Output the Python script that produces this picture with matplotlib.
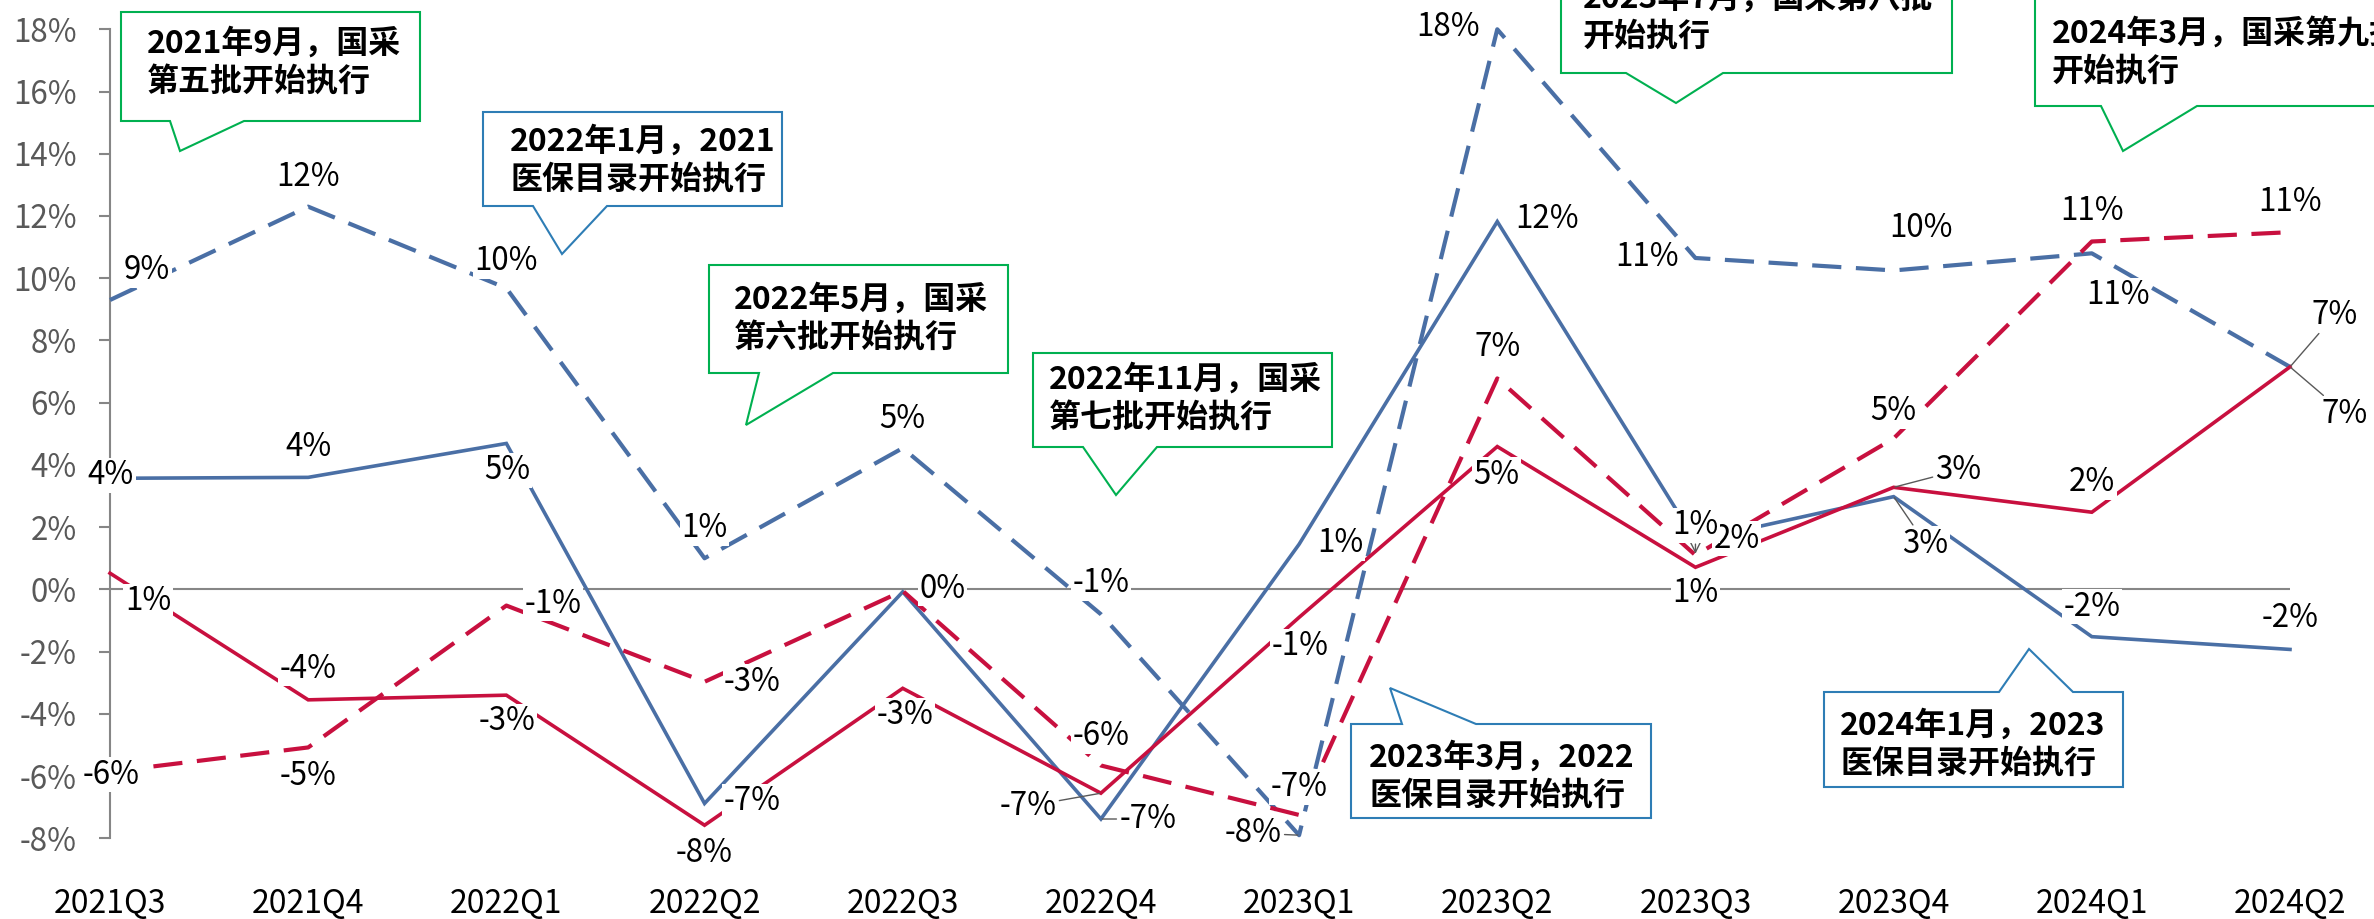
import numpy as np
import matplotlib
matplotlib.use("Agg")
import matplotlib.pyplot as plt
import matplotlib.transforms as mtransforms
from matplotlib.patches import Polygon

# === Dados ===
quarters = ["2021Q3", "2021Q4", "2022Q1", "2022Q2", "2022Q3", "2022Q4",
            "2023Q1", "2023Q2", "2023Q3", "2023Q4", "2024Q1", "2024Q2"]

blue_dashed = [9.3, 12.3, 9.68, 1.0, 4.54, -0.8, -7.9, 18.0, 10.65, 10.25, 10.8, 7.15]
blue_solid = [3.57, 3.6, 4.69, -6.88, -0.08, -7.38, 1.45, 11.82, 1.57, 2.98, -1.52, -1.93]
red_dashed = [-5.86, -5.08, -0.52, -2.97, -0.05, -5.66, -7.25, 6.78, 1.1, 4.85, 11.18, 11.48]
red_solid = [0.52, -3.55, -3.4, -7.58, -3.18, -6.55, -0.9, 4.59, 0.71, 3.28, 2.48, 7.15]

# posicao dos rotulos (dx, dy em pixels, dy para baixo); None = sem rotulo
off_blue_dashed = [(37, -30), (0, -30), (0, -27), (0, -30), (0, -29), (0, -31),
                   (-46, -2), (-49, -2), (-48, -1), (27, -42), (26, 42), (55, 47)]
off_blue_solid = [(1, -3), (0, -30), (1, 27), (48, -2), (40, -3), (47, 0),
                  (41, -1), (50, -3), (41, -2), (32, 47), (0, -30), (0, -31)]
off_red_dashed = [(1, 3), (0, 29), (47, -2), (48, 0), None, (0, -29),
                  (0, -28), (0, -31), (0, -30), (0, -27), (0, -31), (0, -30)]
off_red_solid = [(38, 28), (0, -31), (1, 26), (0, 28), (2, 27), (-73, 13),
                 (1, 29), (-1, 28), (0, 26), (65, -17), (0, -30), (45, -52)]

# linhas de chamada dos rotulos
lead_blue_dashed = {6: "-", 11: "-"}
lead_blue_solid = {5: "-", 9: "-"}
lead_red_dashed = {8: "->"}
lead_red_solid = {5: "-", 9: "-", 11: "-"}

# caixas de anotacao (pixels da figura)
notas = [
    ("2021年9月，国采\n第五批开始执行", "#00B050", (121, 12, 420, 121), "bottom", (170, 244), (180, 151), (147, 63)),
    ("2022年1月，2021\n医保目录开始执行", "#2E7DB5", (483, 112, 782, 206), "bottom", (533, 607), (562, 254), (510, 161)),
    ("2022年5月，国采\n第六批开始执行", "#00B050", (709, 265, 1008, 373), "bottom", (759, 833), (746, 425), (734, 319)),
    ("2022年11月，国采\n第七批开始执行", "#00B050", (1033, 353, 1332, 447), "bottom", (1083, 1157), (1116, 495), (1049, 399)),
    ("2023年3月，2022\n医保目录开始执行", "#2E7DB5", (1351, 724, 1651, 818), "top", (1402, 1476), (1390, 688), (1369, 777)),
    ("2023年7月，国采第八批\n开始执行", "#00B050", (1561, -40, 1952, 73), "bottom", (1626, 1723), (1676, 103), (1583, 18)),
    ("2024年3月，国采第九批\n开始执行", "#00B050", (2035, -5, 2420, 106), "bottom", (2101, 2197), (2123, 151), (2052, 53)),
    ("2024年1月，2023\n医保目录开始执行", "#2E7DB5", (1824, 692, 2123, 787), "top", (1999, 2073), (2029, 649), (1840, 745)),
]

W, H, DPI = 2374, 919, 100
BLUE = "#4A6FA5"
RED = "#C8103F"
GRAY = "#868686"

plt.rcParams["font.family"] = ["Noto Sans CJK SC", "DejaVu Sans"]

fig = plt.figure(figsize=(W / DPI, H / DPI), dpi=DPI)
ax = fig.add_axes([110 / W, 1 - 838.3 / H, 2180 / W, 809 / H])
PX = mtransforms.Affine2D().scale(1 / W, -1 / H).translate(0, 1) + fig.transFigure

x = np.arange(len(quarters))
ax.axhline(0, color=GRAY, lw=1.5, zorder=1)

series = [
    (blue_dashed, BLUE, True, off_blue_dashed, lead_blue_dashed),
    (blue_solid, BLUE, False, off_blue_solid, lead_blue_solid),
    (red_dashed, RED, True, off_red_dashed, lead_red_dashed),
    (red_solid, RED, False, off_red_solid, lead_red_solid),
]

for vals, cor, tracejado, offs, leads in series:
    ln, = ax.plot(x, vals, color=cor, lw=3.0 if tracejado else 2.6, zorder=3,
                  solid_joinstyle="miter", clip_on=False)
    if tracejado:
        ln.set_dashes([7, 3.5])

for vals, cor, tracejado, offs, leads in series:
    for i, v in enumerate(vals):
        if offs[i] is None:
            continue
        dx, dy = offs[i]
        arrow = None
        if i in leads:
            arrow = dict(arrowstyle=leads[i], color="#595959", lw=1, shrinkA=1, shrinkB=1)
        ax.annotate(f"{int(round(v))}%", (i, v), xytext=(dx * 0.72, -dy * 0.72),
                    textcoords="offset points", ha="center", va="center",
                    fontsize=22.5, color="black", zorder=6, annotation_clip=False,
                    bbox=dict(boxstyle="square,pad=0.05", fc="white", ec="none"),
                    arrowprops=arrow)

# === Caixas ===
for txt, cor, (x0, y0, x1, y1), lado, base, tip, (tx, ty) in notas:
    if lado == "bottom":
        pts = [(x0, y0), (x1, y0), (x1, y1), (base[1], y1), tip, (base[0], y1), (x0, y1)]
    else:
        pts = [(x0, y0), (base[0], y0), tip, (base[1], y0), (x1, y0), (x1, y1), (x0, y1)]
    fig.add_artist(Polygon(pts, closed=True, fc="white", ec=cor, lw=1.5,
                           transform=PX, zorder=7))
    fig.text(tx / W, 1 - ty / H, txt, ha="left", va="center", fontsize=23,
             fontweight="bold", color="black", linespacing=1.25, zorder=8)

# === Eixos ===
ax.set_xlim(0, len(quarters) - 1)
ax.set_ylim(-8, 18)
ax.set_yticks(range(-8, 19, 2))
ax.set_yticklabels([f"{t}%" for t in range(-8, 19, 2)])
ax.set_xticks(x)
ax.set_xticklabels(quarters)
ax.tick_params(axis="y", direction="out", length=8, width=1.5, color=GRAY,
               labelcolor="#595959", labelsize=22.5, pad=16)
ax.tick_params(axis="x", length=0, pad=36, labelsize=23, labelcolor="black")
for s in ["top", "right", "bottom"]:
    ax.spines[s].set_visible(False)
ax.spines["left"].set_color(GRAY)
ax.spines["left"].set_linewidth(1.5)

fig.savefig("out.png", dpi=DPI)
